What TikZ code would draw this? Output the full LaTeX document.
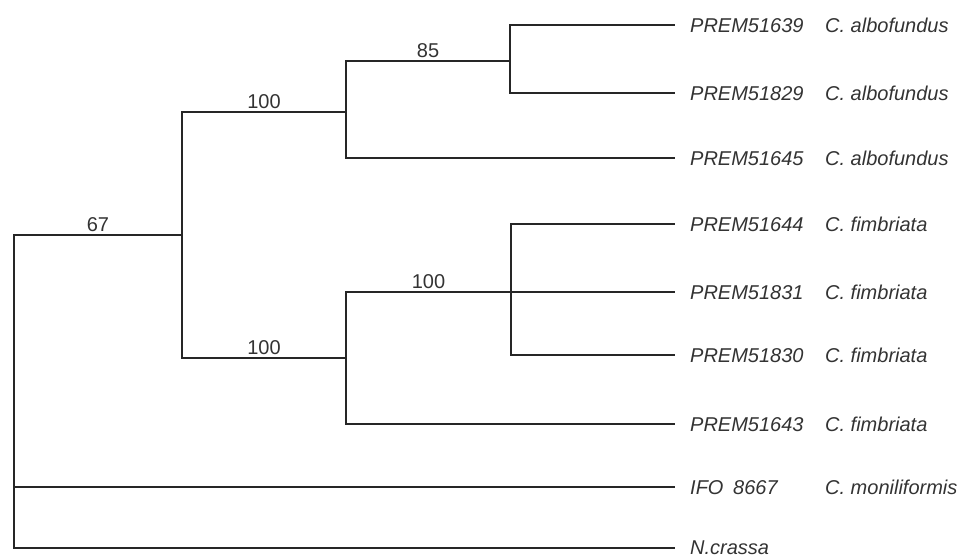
\documentclass[tikz,border=0pt]{standalone}
\usepackage{fontspec}
\setmainfont{Liberation Sans}

\begin{document}
\begin{tikzpicture}[x=1pt,y=-1pt,
  every node/.style={font=\fontsize{20}{24}\selectfont,text=black!80},
  tx/.style={anchor=west,xshift=15pt,inner sep=0pt,font=\fontsize{20}{24}\selectfont\itshape},
  bs/.style={above,inner sep=3pt},
  br/.style={draw=black!85,line width=1.4pt}]
\useasboundingbox (0,0) rectangle (970,559);
% internal nodes
\coordinate (root) at (14,400);
\coordinate (n67) at (182,235);
\coordinate (n100a) at (346,112);
\coordinate (n85) at (510,61);
\coordinate (n100b) at (346,358);
\coordinate (n100c) at (511,292);
% leaves
\node[tx] (l1) at (675,25) {\makebox[135pt][l]{PREM51639}C. albofundus};
\node[tx] (l2) at (675,93) {\makebox[135pt][l]{PREM51829}C. albofundus};
\node[tx] (l3) at (675,158) {\makebox[135pt][l]{PREM51645}C. albofundus};
\node[tx] (l4) at (675,224) {\makebox[135pt][l]{PREM51644}C. fimbriata};
\node[tx] (l5) at (675,292) {\makebox[135pt][l]{PREM51831}C. fimbriata};
\node[tx] (l6) at (675,355) {\makebox[135pt][l]{PREM51830}C. fimbriata};
\node[tx] (l7) at (675,424) {\makebox[135pt][l]{PREM51643}C. fimbriata};
\node[tx] (l8) at (675,487) {\makebox[43pt][l]{IFO}\makebox[92pt][l]{8667}C. moniliformis};
\node[tx] (l9) at (675,548) {N.crassa};
% branches
\draw[br] (root) |- node[bs,pos=0.75]{67} (n67);
\draw[br] (root) |- (l8.west-|675,0);
\draw[br] (root) |- (l9.west-|675,0);
\draw[br] (n67) |- node[bs,pos=0.75]{100} (n100a);
\draw[br] (n67) |- node[bs,pos=0.75]{100} (n100b);
\draw[br] (n100a) |- node[bs,pos=0.75]{85} (n85);
\draw[br] (n100a) |- (l3.west-|675,0);
\draw[br] (n85) |- (l1.west-|675,0);
\draw[br] (n85) |- (l2.west-|675,0);
\draw[br] (n100b) |- node[bs,pos=0.75]{100} (n100c);
\draw[br] (n100b) |- (l7.west-|675,0);
\draw[br] (n100c) |- (l4.west-|675,0);
\draw[br] (n100c) -- (l5.west-|675,0);
\draw[br] (n100c) |- (l6.west-|675,0);
\end{tikzpicture}
\end{document}
